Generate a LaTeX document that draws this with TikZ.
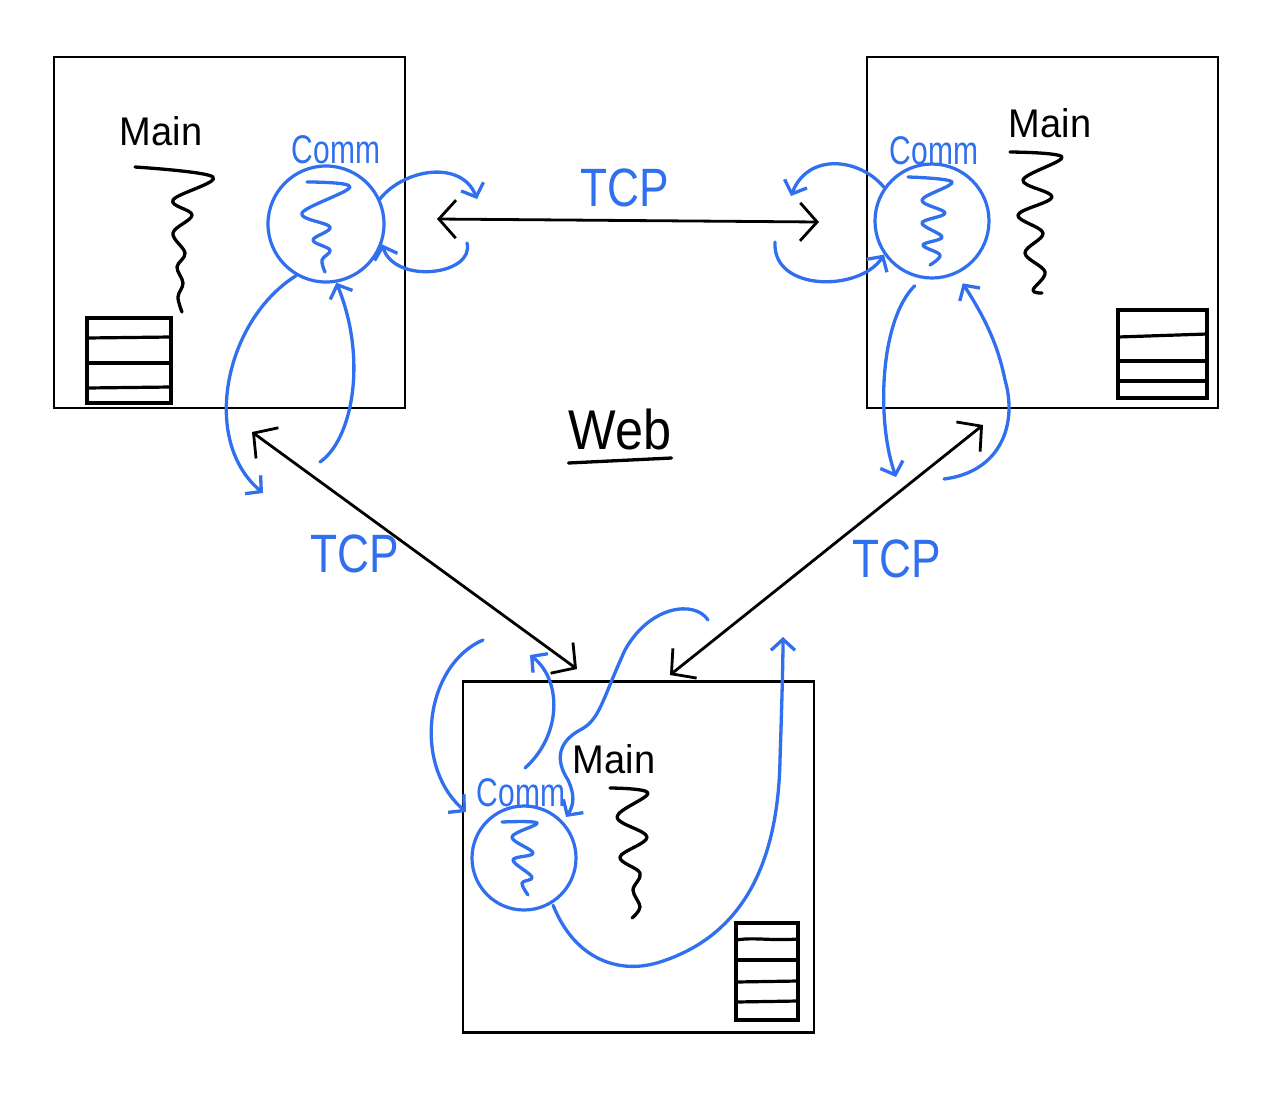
\documentclass[tikz,border=0pt]{standalone}
\usepackage{fontspec}
\setmainfont{Liberation Sans}
\usetikzlibrary{arrows.meta}
\definecolor{pen}{RGB}{48,112,238}
\newcommand{\fsMain}[1]{{\fontsize{40}{42}\selectfont\scalebox{0.95}[1]{#1}}}
\newcommand{\fsComm}[1]{{\fontsize{40}{42}\selectfont\scalebox{0.75}[1]{#1}}}
\newcommand{\fsTcp}[1]{{\fontsize{54}{56}\selectfont\scalebox{0.82}[1]{#1}}}
\newcommand{\fsWeb}[1]{{\fontsize{56}{58}\selectfont\scalebox{0.9}[1]{#1}}}
\begin{document}
\begin{tikzpicture}[x=1pt,y=-1pt,
  box/.style={draw=black,line width=2.5pt,minimum width=351pt,minimum height=351pt,inner sep=0pt},
  stackbox/.style={draw=black,line width=3.2pt,inner sep=0pt},
  stackline/.style={draw=black,line width=3.2pt},
  commring/.style={circle,draw=pen,line width=3.2pt,inner sep=0pt},
  ink/.style={line width=3.3pt,line cap=round,line join=round},
  bl/.style={ink,pen},
  bk/.style={ink,black},
  tcparrow/.style={bk,line width=2.8pt,{Straight Barb[length=17pt,width=38pt]}-{Straight Barb[length=17pt,width=38pt]}},
  barbtip/.style={-{Straight Barb[length=11pt,width=24pt]}},
  lbl/.style={anchor=base,inner sep=0pt},
]
\useasboundingbox (0,0) rectangle (1272,1093);
\fill[white] (0,0) rectangle (1272,1093);

% boxes
\node[box] (bA) at (229.5,232.5) {};
\node[box] (bB) at (1042.5,232.5) {};
\node[box] (bC) at (638.5,857) {};

% stacks
\node[stackbox,minimum width=84pt,minimum height=85pt] (sA) at (129,360.5) {};
\draw[stackline] (87,338) -- (171,337);
\draw[stackline] (87,363) -- (171,363);
\draw[stackline] (87,388) -- (171,387);
\node[stackbox,minimum width=89pt,minimum height=88pt] (sB) at (1162.5,354) {};
\draw[stackline] (1118,337) -- (1207,334);
\draw[stackline] (1118,361) -- (1207,361);
\draw[stackline] (1118,381) -- (1207,381);
\node[stackbox,minimum width=62pt,minimum height=97pt] (sC) at (767,971.5) {};
\draw[stackline] (736,940) .. controls (755,937) and (770,941) .. (798,939);
\draw[stackline] (736,960) -- (798,960);
\draw[stackline] (736,982) -- (798,981);
\draw[stackline] (736,1002) -- (798,1001);

% comm circles
\node[commring,minimum size=116pt] (cA) at (326,224) {};
\node[commring,minimum size=114pt] (cB) at (932,221) {};
\node[commring,minimum size=104pt] (cC) at (524,858) {};

% labels
\node[lbl] (mA) at (161,145) {\fsMain{Main}};
\node[lbl] (mB) at (1050,137) {\fsMain{Main}};
\node[lbl] (mC) at (614,773) {\fsMain{Main}};
\node[lbl,text=pen] (kA) at (336,163) {\fsComm{Comm}};
\node[lbl,text=pen] (kB) at (934,164) {\fsComm{Comm}};
\node[lbl,text=pen] (kC) at (521,806) {\fsComm{Comm}};
\node[lbl,text=pen] (tTop) at (625,206) {\fsTcp{TCP}};
\node[lbl,text=pen] (tLeft) at (355,572) {\fsTcp{TCP}};
\node[lbl,text=pen] (tRight) at (897,577) {\fsTcp{TCP}};
\node[lbl] (web) at (620,449) {\fsWeb{Web}};
\draw[bk] ([yshift=-14pt]web.base west) -- ([yshift=-9pt]web.base east);

% main-thread squiggles
\draw[bk] plot[smooth,tension=0.6] coordinates {(135,167) (213,177) (173,200) (192,215) (173,233) (185,253) (177,267) (183,283) (178,297) (182,312)};
\draw[bk] plot[smooth,tension=0.6] coordinates {(1010,152) (1062,157) (1023,180) (1052,197) (1018,215) (1043,233) (1025,253) (1045,272) (1033,290) (1042,293)};
\draw[bk] plot[smooth,tension=0.6] coordinates {(610,788) (648,793) (617,817) (647,837) (620,857) (640,873) (633,890) (640,907) (632,918)};

% comm-thread squiggles
\draw[bl] plot[smooth,tension=0.6] coordinates {(307,182) (350,187) (302,213) (330,227) (313,240) (330,250) (322,260) (325,272)};
\draw[bl] plot[smooth,tension=0.6] coordinates {(908,177) (952,182) (922,200) (945,213) (922,223) (942,237) (923,245) (940,255) (930,265)};
\draw[bl] plot[smooth,tension=0.6] coordinates {(502,822) (537,823) (512,837) (533,853) (513,860) (532,877) (522,883) (528,895)};

% TCP links
\coordinate (tAB1) at (437,219);
\coordinate (tAB2) at (819,222);
\coordinate (tAC1) at (252,432);
\coordinate (tAC2) at (577,669);
\coordinate (tBC1) at (983,425);
\coordinate (tBC2) at (670,675);
\draw[tcparrow] (tAB1) -- (tAB2);
\draw[tcparrow] (tAC1) -- (tAC2);
\draw[tcparrow] (tBC2) -- (tBC1);

% blue flows, A
\coordinate (aA1) at (477,199);
\coordinate (fA2) at (467,243);
\coordinate (aA3) at (263,493);
\coordinate (fA4) at (320,462);
\draw[bl,barbtip] (cA.25) .. controls (405,168) and (462,160) .. (aA1);
\draw[bl,barbtip] (fA2) .. controls (475,275) and (395,285) .. (cA.-20);
\draw[bl,barbtip] (cA.-120) .. controls (225,320) and (200,440) .. (aA3);
\draw[bl,barbtip] (fA4) .. controls (352,440) and (368,360) .. (cA.-80);

% blue flows, B
\coordinate (aB1) at (791,196);
\coordinate (fB2) at (775,242);
\coordinate (aB3) at (896,477);
\coordinate (fB4) at (944,479);
\draw[bl,barbtip] (cB.145) .. controls (860,158) and (808,152) .. (aB1);
\draw[bl,barbtip] (fB2) .. controls (772,292) and (860,292) .. (cB.-145);
\draw[bl,barbtip,shorten <=10pt] (cB.-100) .. controls (880,320) and (876,420) .. (aB3);
\draw[bl,barbtip,shorten >=11pt] (fB4) .. controls (1000,472) and (1018,425) .. (1005,380) .. controls (998,345) and (985,318) .. (cB.-65);

% blue flows, C
\coordinate (fC1) at (483,640);
\coordinate (aC1) at (466,812);
\coordinate (fC2) at (525,768);
\coordinate (aC2) at (530,655);
\coordinate (fC3) at (708,620);
\coordinate (aC3) at (566,817);
\coordinate (aC4) at (783,637);
\draw[bl,barbtip] (fC1) .. controls (425,665) and (412,765) .. (aC1);
\draw[bl,barbtip] (fC2) .. controls (562,735) and (562,680) .. (aC2);
\draw[bl,barbtip] (fC3) .. controls (695,600) and (650,605) .. (625,650)
  .. controls (602,700) and (600,720) .. (580,730)
  .. controls (558,742) and (555,760) .. (568,780)
  .. controls (575,795) and (574,805) .. (aC3);
\draw[bl,barbtip,shorten <=2pt] (cC.-58) .. controls (575,960) and (620,975) .. (660,962)
  .. controls (745,935) and (778,860) .. (780,760)
  .. controls (782,700) and (783,660) .. (aC4);
\end{tikzpicture}
\end{document}
